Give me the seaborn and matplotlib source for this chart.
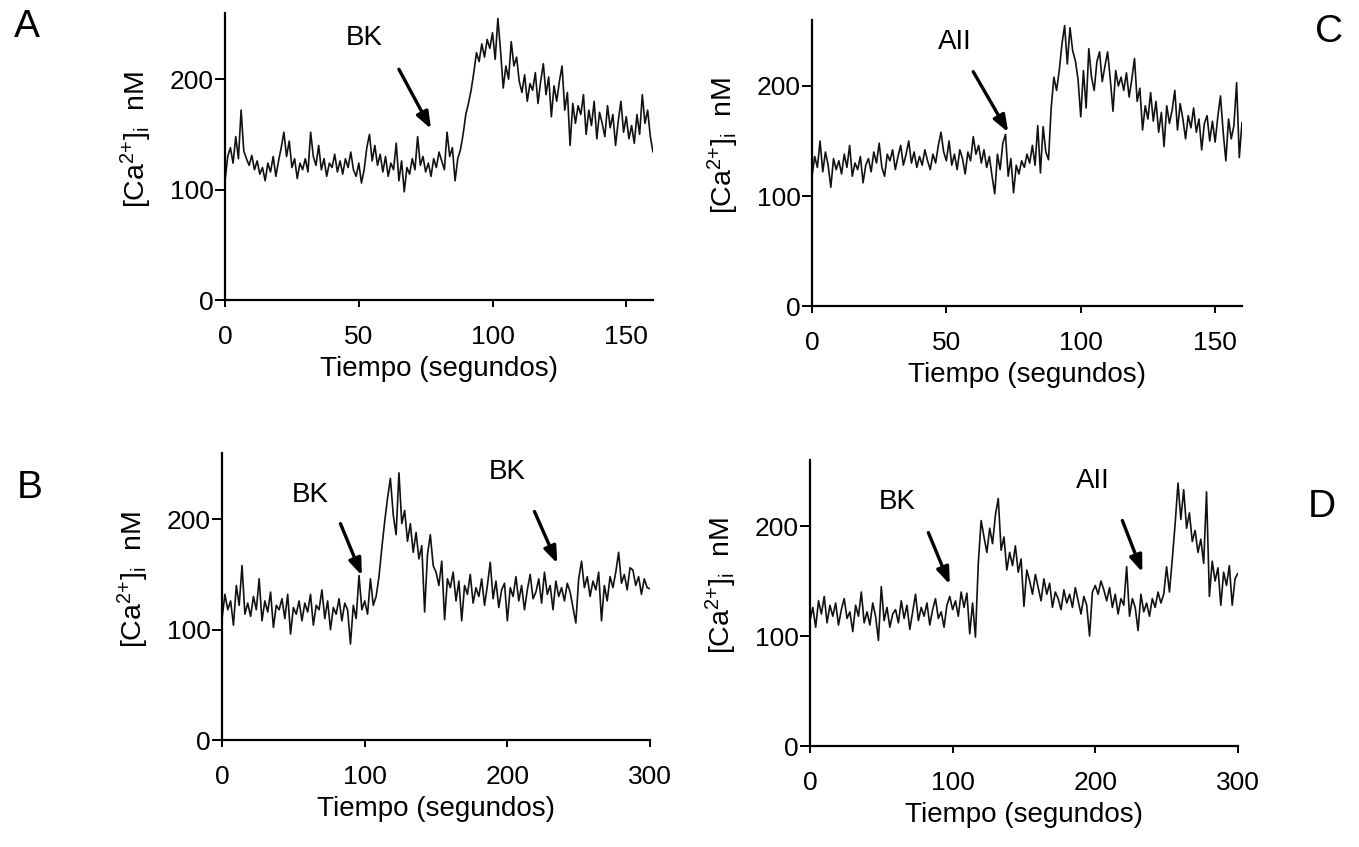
import numpy as np
import pandas as pd
import seaborn as sns
import matplotlib
matplotlib.use("Agg")
import matplotlib.pyplot as plt

# --- data ----------------------------------------------------------------
# A: BK, 0-160 s, 1 s step
time_a = list(range(0, 161))
ca_a = [108, 130, 138, 124, 148, 128, 172, 135, 128, 122,
        131, 118, 126, 114, 120, 108, 124, 116, 130, 112,
        126, 138, 152, 130, 144, 120, 128, 110, 124, 118,
        128, 116, 152, 130, 122, 140, 118, 128, 112, 124,
        120, 132, 116, 126, 114, 128, 120, 134, 118, 112,
        124, 106, 118, 138, 150, 126, 140, 122, 132, 116,
        130, 112, 124, 118, 142, 108, 126, 98, 120, 114,
        128, 118, 148, 122, 130, 116, 124, 112, 128, 120,
        134, 126, 118, 152, 130, 138, 108, 128, 136, 150,
        168, 178, 190, 206, 224, 216, 232, 220, 236, 228,
        242, 218, 255, 226, 192, 212, 200, 234, 212, 220,
        198, 188, 204, 180, 196, 190, 206, 178, 198, 214,
        186, 202, 166, 194, 180, 198, 212, 172, 188, 140,
        178, 160, 176, 168, 186, 150, 172, 158, 180, 146,
        170, 160, 148, 176, 156, 168, 140, 162, 180, 152,
        166, 146, 158, 142, 168, 150, 186, 160, 172, 148,
        134]

# C: AII, 0-160 s, 1 s step
time_c = list(range(0, 161))
ca_c = [118, 136, 126, 150, 122, 140, 128, 108, 134, 124,
        132, 120, 138, 126, 146, 118, 130, 124, 136, 112,
        128, 134, 122, 140, 130, 148, 126, 118, 138, 132,
        142, 124, 136, 146, 128, 138, 150, 130, 140, 126,
        136, 128, 142, 132, 124, 138, 130, 146, 158, 140,
        132, 150, 128, 138, 124, 142, 134, 120, 140, 132,
        154, 138, 146, 130, 142, 126, 136, 118, 102, 138,
        124, 148, 156, 118, 134, 103, 128, 120, 132, 126,
        138, 130, 146, 128, 164, 121, 163, 140, 133, 180,
        208, 196, 214, 238, 255, 220, 253, 232, 223, 206,
        172, 214, 180, 234, 208, 196, 222, 231, 204, 218,
        231, 206, 177, 214, 200, 208, 196, 212, 190, 206,
        225, 186, 198, 160, 182, 170, 194, 168, 186, 158,
        176, 145, 182, 166, 178, 196, 160, 184, 170, 152,
        173, 162, 180, 158, 170, 142, 166, 173, 150, 168,
        149, 172, 191, 158, 132, 170, 152, 164, 203, 135,
        167]

# B: BK then BK, 0-300 s, 2 s step
time_b = list(range(0, 301, 2))
ca_b = [110, 132, 118, 126, 104, 140, 122, 158, 114, 124,
        112, 130, 118, 146, 108, 126, 116, 134, 102, 122,
        118, 128, 110, 132, 96, 120, 114, 126, 108, 124,
        116, 132, 104, 122, 118, 136, 110, 126, 100, 120,
        114, 128, 108, 124, 118, 87, 122, 110, 149, 118,
        126, 114, 146, 122, 130, 148, 174, 198, 219, 237,
        204, 186, 242, 196, 208, 180, 196, 170, 188, 164,
        176, 116, 168, 186, 158, 152, 140, 162, 109, 146,
        138, 152, 126, 144, 108, 140, 132, 150, 124, 138,
        130, 146, 122, 140, 161, 128, 144, 120, 136, 142,
        108, 138, 130, 148, 126, 140, 118, 136, 150, 128,
        134, 146, 124, 152, 132, 140, 118, 144, 130, 138,
        126, 142, 134, 120, 106, 146, 162, 138, 148, 130,
        144, 136, 152, 108, 140, 126, 148, 138, 152, 170,
        142, 150, 136, 156, 154, 140, 148, 132, 146, 138,
        137]

# D: BK then AII, 0-300 s, 2 s step
time_d = list(range(0, 301, 2))
ca_d = [114, 126, 108, 132, 120, 136, 112, 128, 118, 130,
        110, 124, 134, 116, 122, 104, 128, 118, 140, 112,
        122, 110, 130, 118, 96, 145, 114, 126, 108, 120,
        124, 112, 132, 116, 128, 106, 122, 138, 114, 126,
        118, 130, 110, 124, 134, 116, 122, 108, 128, 136,
        124, 132, 118, 140, 126, 139, 102, 130, 99, 166,
        205, 190, 176, 198, 184, 210, 225, 178, 190, 160,
        176, 164, 182, 158, 170, 127, 160, 150, 138, 156,
        144, 132, 152, 138, 148, 126, 140, 134, 124, 142,
        130, 138, 126, 144, 132, 120, 136, 128, 100, 140,
        146, 138, 150, 142, 132, 144, 126, 138, 120, 134,
        128, 163, 118, 134, 126, 105, 138, 122, 130, 118,
        134, 126, 140, 130, 138, 163, 140, 170, 202, 239,
        206, 233, 198, 212, 186, 196, 176, 188, 166, 231,
        136, 168, 150, 162, 128, 158, 146, 164, 128, 152,
        157]

ticks_short = [0, 50, 100, 150]
ticks_long = [0, 100, 200, 300]
yticks = [0, 100, 200]

# (label, text xy, arrow tail, arrow head) in data units
notes_a = [("BK", (52, 237), (65, 209), (77, 155))]
notes_c = [("AII", (53, 240), (60, 213), (73, 158))]
notes_b = [("BK", (62, 222), (83, 196), (98, 149)),
           ("BK", (200, 243), (219, 207), (235, 160))]
notes_d = [("BK", (61, 222), (83, 194), (98, 147)),
           ("AII", (198, 241), (219, 205), (233, 158))]

sns.set_style("ticks")
plt.rcParams["font.family"] = ["Liberation Sans", "DejaVu Sans"]
plt.rcParams["mathtext.default"] = "regular"
plt.rcParams["text.color"] = "k"
plt.rcParams["axes.labelcolor"] = "k"

fig = plt.figure(figsize=(13.59, 8.47), dpi=100)

panels = [
    ("A", [0.1656, 0.6458, 0.3149, 0.3389], time_a, ca_a, 160, ticks_short, notes_a, (0.020, 0.968)),
    ("C", [0.5975, 0.6387, 0.3164, 0.3377], time_c, ca_c, 160, ticks_short, notes_c, (0.978, 0.962)),
    ("B", [0.1634, 0.1263, 0.3149, 0.3389], time_b, ca_b, 300, ticks_long, notes_b, (0.022, 0.424)),
    ("D", [0.5960, 0.1192, 0.3149, 0.3377], time_d, ca_d, 300, ticks_long, notes_d, (0.973, 0.402)),
]

for letter, rect, t, ca, xmax, xt, notes, lpos in panels:
    ax = fig.add_axes(rect)
    df = pd.DataFrame({"t": t, "ca": ca})
    sns.lineplot(data=df, x="t", y="ca", ax=ax, color="#111111", lw=1.2, estimator=None)
    ax.set_xlim(0, xmax)
    ax.set_ylim(0, 260)
    ax.set_xticks(xt)
    ax.set_yticks(yticks)
    for s in ["top", "right"]:
        ax.spines[s].set_visible(False)
    for s in ["left", "bottom"]:
        ax.spines[s].set_linewidth(1.6)
        ax.spines[s].set_color("k")
    ax.tick_params(axis="x", length=5, width=1.4, pad=13, labelsize=19, colors="k")
    ax.tick_params(axis="y", length=7, width=1.4, pad=1, labelsize=19, colors="k")
    ax.set_xlabel("Tiempo (segundos)", fontsize=20, labelpad=5)
    ax.set_ylabel(r"[Ca$^{2{+}}$]$_{i}$  nM", fontsize=20.5)
    ax.yaxis.set_label_coords(-0.165, 0.56)
    for label, txy, tail, head in notes:
        ax.text(txy[0], txy[1], label, fontsize=20, ha="center", va="center")
        ax.annotate("", xy=head, xytext=tail,
                    arrowprops=dict(arrowstyle="-|>,head_length=1.0,head_width=0.38",
                                    lw=2.4, color="k", shrinkA=0, shrinkB=0))
    fig.text(lpos[0], lpos[1], letter, fontsize=28, ha="center", va="center")

fig.savefig("out.png", dpi=100)
